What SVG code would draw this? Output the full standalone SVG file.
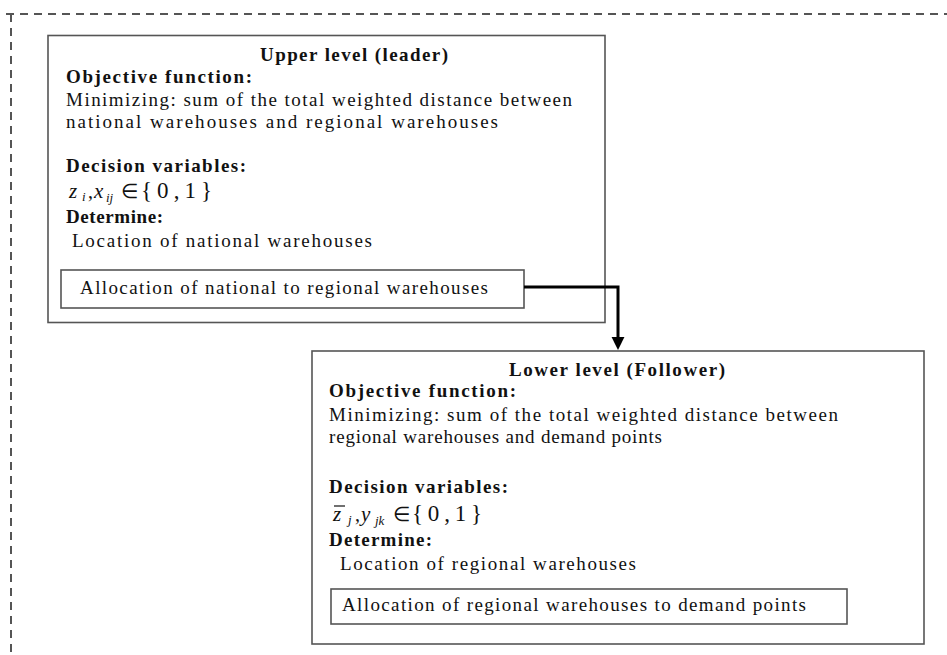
<svg xmlns="http://www.w3.org/2000/svg" width="947" height="655" viewBox="0 0 947 655">
<style>
  .t { font-family: "Liberation Serif", "Times New Roman", serif; font-size: 19px; fill: #111; }
  .b { font-weight: bold; }
  .m { font-family: "Liberation Serif", "Times New Roman", serif; fill: #111; }
  .i { font-style: italic; }
  .box { fill: #fff; stroke: #555; stroke-width: 1.6; }
  .dash { fill: none; stroke: #555; stroke-width: 2; stroke-dasharray: 8 6; }
  .conn { fill: none; stroke: #000; stroke-width: 3; }
</style>
<defs>
  <marker id="ah" viewBox="0 0 10 10" refX="0" refY="5" markerWidth="4.3" markerHeight="4.6" markerUnits="strokeWidth" orient="auto">
    <path d="M0,0 L10,5 L0,10 Z" fill="#000"/>
  </marker>
</defs>
<rect width="947" height="655" fill="#fff"/>
<g id="frame">
  <path class="dash" d="M6,14 H947"/>
  <path class="dash" d="M11,14 V655"/>
</g>
<g id="upper">
  <rect class="box" x="48" y="35.5" width="557" height="287"/>
  <text class="t b" x="260" y="61" textLength="188">Upper level (leader)</text>
  <text class="t b" x="66" y="83" textLength="186">Objective function:</text>
  <text class="t" x="66" y="106" textLength="506">Minimizing: sum of the total weighted distance between</text>
  <text class="t" x="66" y="128" textLength="432">national warehouses and regional warehouses</text>
  <text class="t b" x="66" y="172" textLength="180">Decision variables:</text>
  <text class="m" y="198"><tspan class="i" x="69" font-size="21">z</tspan><tspan class="i" x="82" y="201" font-size="13">i</tspan><tspan x="88" y="198" font-size="20">,</tspan><tspan class="i" x="94" font-size="21">x</tspan><tspan class="i" x="106" y="202" font-size="13">ij</tspan><tspan x="121" y="198" font-size="20">∈</tspan><tspan x="141" font-size="23" textLength="71">{0,1}</tspan></text>
  <text class="t b" x="66" y="223" textLength="97">Determine:</text>
  <text class="t" x="72" y="247" textLength="300">Location of national warehouses</text>
  <g id="upper-alloc">
    <rect class="box" x="61" y="270" width="463" height="38"/>
    <text class="t" x="80" y="294" textLength="408">Allocation of national to regional warehouses</text>
  </g>
</g>
<g id="lower">
  <rect class="box" x="312" y="351" width="612" height="293"/>
  <text class="t b" x="509" y="376" textLength="216">Lower level (Follower)</text>
  <text class="t b" x="329" y="397" textLength="187">Objective function:</text>
  <text class="t" x="329" y="421" textLength="509">Minimizing: sum of the total weighted distance between</text>
  <text class="t" x="329" y="443" textLength="333">regional warehouses and demand points</text>
  <text class="t b" x="329" y="493" textLength="179">Decision variables:</text>
  <text class="m" y="521"><tspan class="i" x="333" font-size="21">z</tspan><tspan class="i" x="348" y="524" font-size="13">j</tspan><tspan x="355" y="521" font-size="20">,</tspan><tspan class="i" x="361" font-size="21">y</tspan><tspan class="i" x="375" y="525" font-size="13">jk</tspan><tspan x="393" y="521" font-size="20">∈</tspan><tspan x="412" font-size="23" textLength="70">{0,1}</tspan></text>
  <path d="M334,506 H345" stroke="#111" stroke-width="1.2"/>
  <text class="t b" x="329" y="546" textLength="103">Determine:</text>
  <text class="t" x="340" y="570" textLength="296">Location of regional warehouses</text>
  <g id="lower-alloc">
    <rect class="box" x="331" y="589" width="516" height="35"/>
    <text class="t" x="342" y="611" textLength="464">Allocation of regional warehouses to demand points</text>
  </g>
</g>
<g id="connectors">
  <path class="conn" d="M524,287 H618 V337" marker-end="url(#ah)"/>
</g>
</svg>
